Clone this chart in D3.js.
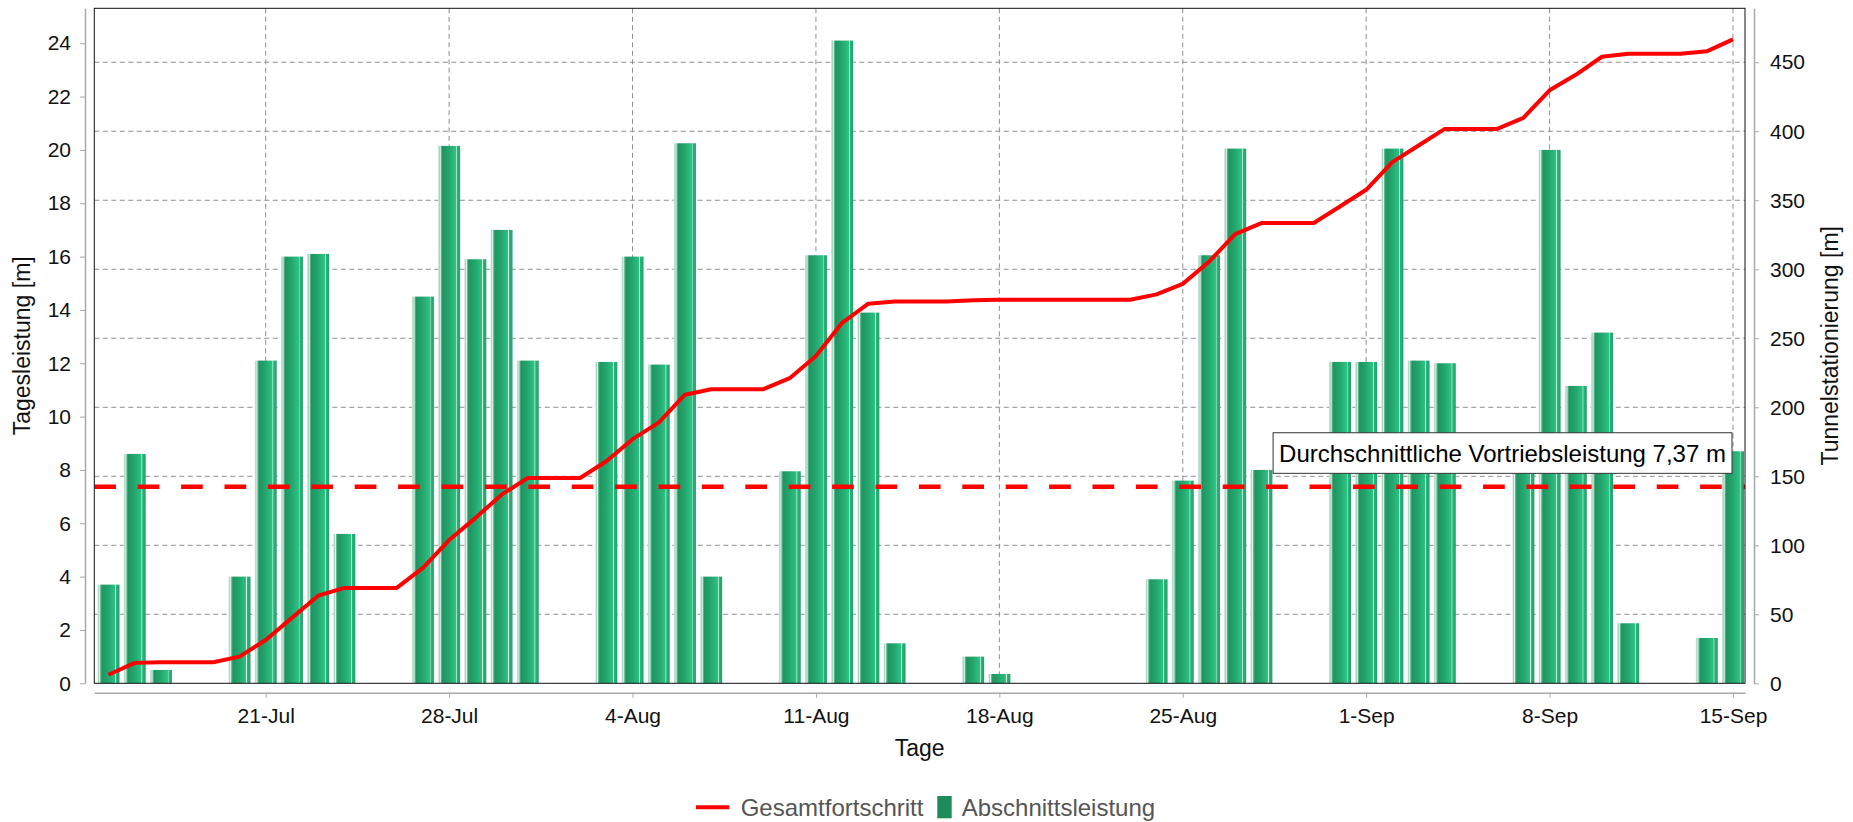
<!DOCTYPE html>
<html lang="de">
<head>
<meta charset="UTF-8" />
<title>Vortriebsleistung</title>
<script src="https://d3js.org/d3.v7.min.js"></script>
<style>
  body { margin: 0; background: #fff; }
  svg text { font-family: "Liberation Sans", Arial, sans-serif; }
</style>
</head>
<body>
<svg id="chart" width="1853" height="822"></svg>
<script>
// days of the chart, one bar per day
const days = (
  "2019-07-15 2019-07-16 2019-07-17 2019-07-18 2019-07-19 2019-07-20 2019-07-21 2019-07-22 2019-07-23 2019-07-24 " +
  "2019-07-25 2019-07-26 2019-07-27 2019-07-28 2019-07-29 2019-07-30 2019-07-31 2019-08-01 2019-08-02 2019-08-03 " +
  "2019-08-04 2019-08-05 2019-08-06 2019-08-07 2019-08-08 2019-08-09 2019-08-10 2019-08-11 2019-08-12 2019-08-13 " +
  "2019-08-14 2019-08-15 2019-08-16 2019-08-17 2019-08-18 2019-08-19 2019-08-20 2019-08-21 2019-08-22 2019-08-23 " +
  "2019-08-24 2019-08-25 2019-08-26 2019-08-27 2019-08-28 2019-08-29 2019-08-30 2019-08-31 2019-09-01 2019-09-02 " +
  "2019-09-03 2019-09-04 2019-09-05 2019-09-06 2019-09-07 2019-09-08 2019-09-09 2019-09-10 2019-09-11 2019-09-12 " +
  "2019-09-13 2019-09-14 2019-09-15"
).split(" ");

// Abschnittsleistung [m] per day (left axis)
const dailyAdvance = [
  3.7, 8.6, 0.5, 0, 0, 4.0, 12.1, 16.0, 16.1, 5.6,
  0, 0, 14.5, 20.15, 15.9, 17.0, 12.1, 0, 0, 12.05,
  16.0, 11.95, 20.25, 4.0, 0, 0, 7.95, 16.05, 24.1, 13.9,
  1.5, 0, 0, 1.0, 0.35, 0, 0, 0, 0, 0,
  3.9, 7.6, 16.05, 20.05, 8.0, 0, 0, 12.05, 12.05, 20.05,
  12.1, 12.0, 0, 0, 8.0, 20.0, 11.15, 13.15, 2.25, 0,
  0, 1.7, 8.7
];

// Gesamtfortschritt [m] (right axis)
const totalProgress = [
  6.2, 14.8, 15.3, 15.3, 15.3, 19.3, 31.4, 47.4, 63.5, 69.1,
  69.1, 69.1, 83.6, 103.8, 119.7, 136.7, 148.8, 148.8, 148.8, 160.9,
  176.9, 188.9, 209.1, 213.1, 213.1, 213.1, 221.1, 237.1, 261.2, 275.1,
  276.6, 276.6, 276.6, 277.6, 277.9, 277.9, 277.9, 277.9, 277.9, 277.9,
  281.8, 289.4, 305.4, 325.5, 333.5, 333.5, 333.5, 345.5, 357.6, 377.6,
  389.7, 401.7, 401.7, 401.7, 409.7, 429.7, 440.9, 454.0, 456.2, 456.2,
  456.2, 457.9, 466.6
];

const averageAdvance = 7.37;
const averageLabel = "Durchschnittliche Vortriebsleistung 7,37 m";

const tickDates = ["2019-07-21", "2019-07-28", "2019-08-04", "2019-08-11", "2019-08-18",
                   "2019-08-25", "2019-09-01", "2019-09-08", "2019-09-15"];
const tickLabels = ["21-Jul", "28-Jul", "4-Aug", "11-Aug", "18-Aug", "25-Aug", "1-Sep", "8-Sep", "15-Sep"];
const leftTicks = [0, 2, 4, 6, 8, 10, 12, 14, 16, 18, 20, 22, 24];
const rightTicks = [0, 50, 100, 150, 200, 250, 300, 350, 400, 450];

const parse = d3.timeParse("%Y-%m-%d");
const dates = days.map(parse);

const svg = d3.select("#chart");
const plot = { left: 94.3, right: 1745, top: 8.3, bottom: 683.3 };

const x = d3.scaleTime()
  .domain([d3.timeHour.offset(dates[0], -13), d3.timeHour.offset(dates[dates.length - 1], 11)])
  .range([plot.left, plot.right]);
const yL = d3.scaleLinear().domain([0, 25.31]).range([plot.bottom, plot.top]);
const yR = d3.scaleLinear().domain([0, 489.1]).range([plot.bottom, plot.top]);

// bar gradient
const defs = svg.append("defs");
const grad = defs.append("linearGradient").attr("id", "barGrad")
  .attr("x1", 0).attr("x2", 1).attr("y1", 0).attr("y2", 0);
[[0, "#d3ebdf"], [0.06, "#a3d5bc"], [0.1, "#e4f3ec"], [0.14, "#62bb92"], [0.2, "#1f9462"],
 [0.5, "#24a76e"], [0.8, "#2cc385"], [0.82, "#f2fbf6"], [0.86, "#2ab57b"], [1, "#22a06a"]]
  .forEach(([o, c]) => grad.append("stop").attr("offset", o).attr("stop-color", c));

defs.append("clipPath").attr("id", "clip").append("rect")
  .attr("x", plot.left).attr("y", plot.top)
  .attr("width", plot.right - plot.left).attr("height", plot.bottom - plot.top);

// grid
const grid = svg.append("g").attr("stroke", "#8f8f8f").attr("stroke-width", 1).attr("stroke-dasharray", "5,3.5");
grid.selectAll(".h").data(rightTicks.slice(1)).enter().append("line")
  .attr("x1", plot.left).attr("x2", plot.right)
  .attr("y1", d => yR(d)).attr("y2", d => yR(d));
grid.selectAll(".v").data(tickDates.map(parse)).enter().append("line")
  .attr("x1", d => x(d)).attr("x2", d => x(d))
  .attr("y1", plot.top).attr("y2", plot.bottom);

const inner = svg.append("g").attr("clip-path", "url(#clip)");

// bars
const dayW = x(dates[1]) - x(dates[0]);
const barW = dayW * 0.84;
inner.selectAll(".bar").data(dates).enter().append("rect")
  .attr("class", "bar")
  .attr("x", d => x(d) - barW / 2)
  .attr("width", barW)
  .attr("y", (d, i) => yL(dailyAdvance[i]))
  .attr("height", (d, i) => yL(0) - yL(dailyAdvance[i]))
  .attr("fill", "url(#barGrad)");

// average line
inner.append("line")
  .attr("x1", plot.left).attr("x2", plot.right)
  .attr("y1", yL(averageAdvance)).attr("y2", yL(averageAdvance))
  .attr("stroke", "#ff0000").attr("stroke-width", 4.5)
  .attr("stroke-dasharray", "21.7,21.7");

// cumulative line
const line = d3.line()
  .x((d, i) => x(dates[i]))
  .y(d => yR(d));
inner.append("path").datum(totalProgress)
  .attr("d", line)
  .attr("fill", "none")
  .attr("stroke", "#ff0000")
  .attr("stroke-width", 4)
  .attr("stroke-linejoin", "round");

// plot frame
svg.append("rect")
  .attr("x", plot.left).attr("y", plot.top)
  .attr("width", plot.right - plot.left).attr("height", plot.bottom - plot.top)
  .attr("fill", "none").attr("stroke", "#111").attr("stroke-width", 1);

// average label box
const labelG = svg.append("g");
const labelText = labelG.append("text")
  .attr("font-size", 24).attr("fill", "#000")
  .text(averageLabel);
const tw = labelText.node().getComputedTextLength();
const boxRight = x(dates[dates.length - 1]) - 1;
const boxBottom = yL(averageAdvance) - 13.4;
const boxH = 40.6;
labelG.insert("rect", "text")
  .attr("x", boxRight - tw - 12).attr("y", boxBottom - boxH)
  .attr("width", tw + 12).attr("height", boxH)
  .attr("fill", "#fff").attr("stroke", "#333").attr("stroke-width", 1);
labelText.attr("x", boxRight - tw - 6).attr("y", boxBottom - 11.6);

// axes
function styleAxis(g) {
  g.select(".domain").attr("stroke", "#a8a8a8").attr("stroke-width", 1.5);
  g.selectAll(".tick line").attr("stroke", "#a8a8a8");
  g.selectAll(".tick text").attr("fill", "#111").attr("font-size", 21)
    .attr("font-family", "Liberation Sans, Arial, sans-serif");
}

svg.append("g")
  .attr("transform", `translate(85,0)`)
  .call(d3.axisLeft(yL).tickValues(leftTicks).tickSize(5).tickSizeOuter(0).tickPadding(9))
  .call(styleAxis);

svg.append("g")
  .attr("transform", `translate(1754,0)`)
  .call(d3.axisRight(yR).tickValues(rightTicks).tickSize(5).tickSizeOuter(0).tickPadding(11))
  .call(styleAxis);

svg.append("g")
  .attr("transform", `translate(0,692.7)`)
  .call(d3.axisBottom(x).tickValues(tickDates.map(parse))
    .tickFormat((d, i) => tickLabels[i]).tickSize(5).tickSizeOuter(0).tickPadding(10.5))
  .call(styleAxis);

// axis titles
const midX = (plot.left + plot.right) / 2;
const midY = (plot.top + plot.bottom) / 2;
svg.append("text").attr("x", midX).attr("y", 755.7)
  .attr("text-anchor", "middle").attr("font-size", 23).attr("fill", "#111").text("Tage");
svg.append("text")
  .attr("transform", `translate(29.8,${midY}) rotate(-90)`)
  .attr("text-anchor", "middle").attr("font-size", 23).attr("fill", "#111").text("Tagesleistung [m]");
svg.append("text")
  .attr("transform", `translate(1838,${midY}) rotate(-90)`)
  .attr("text-anchor", "middle").attr("font-size", 23).attr("fill", "#111").text("Tunnelstationierung [m]");

// legend
const legend = svg.append("g").attr("font-size", 24).attr("fill", "#555");
legend.append("line")
  .attr("x1", 696).attr("x2", 729.3).attr("y1", 807.3).attr("y2", 807.3)
  .attr("stroke", "#ff0000").attr("stroke-width", 4);
legend.append("text").attr("x", 740.7).attr("y", 816).text("Gesamtfortschritt");
legend.append("rect")
  .attr("x", 937.3).attr("y", 796).attr("width", 14.4).attr("height", 22.3)
  .attr("fill", "#1f8a5b");
legend.append("text").attr("x", 961.7).attr("y", 816).text("Abschnittsleistung");
</script>
</body>
</html>
